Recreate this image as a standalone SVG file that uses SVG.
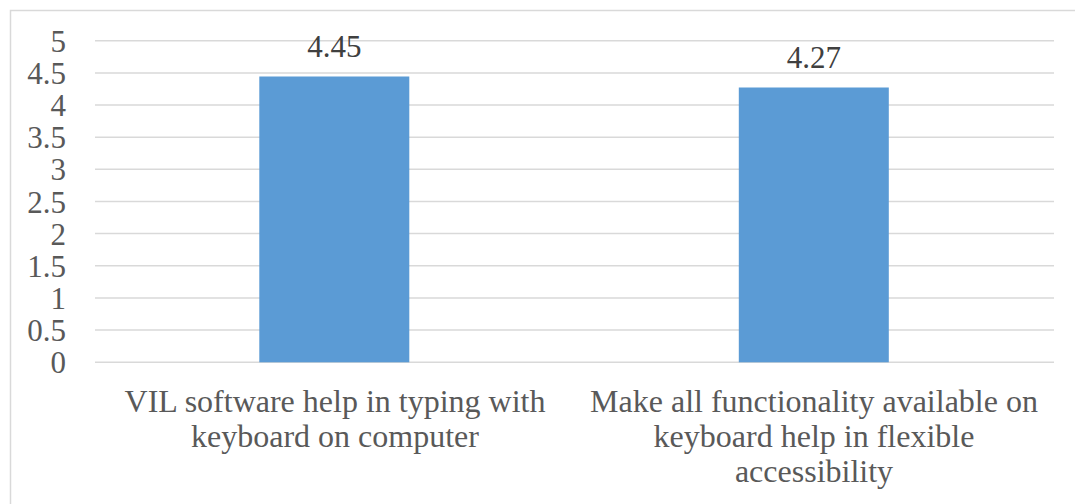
<svg xmlns="http://www.w3.org/2000/svg" width="1075" height="504" viewBox="0 0 1075 504">
<style>
.grid{stroke:#D9D9D9;stroke-width:1.5;fill:none}
.border{stroke:#D9D9D9;stroke-width:1.5;fill:none}
.bar{fill:#5B9BD5}
</style>
<rect width="1075" height="504" fill="#FFFFFF"/>
<path class="border" d="M10.5 504 V10.5 H1075"/>
<g id="gridlines">
<line class="grid" x1="95" y1="40.7" x2="1054" y2="40.7"/>
<line class="grid" x1="95" y1="72.9" x2="1054" y2="72.9"/>
<line class="grid" x1="95" y1="105" x2="1054" y2="105"/>
<line class="grid" x1="95" y1="137.2" x2="1054" y2="137.2"/>
<line class="grid" x1="95" y1="169.3" x2="1054" y2="169.3"/>
<line class="grid" x1="95" y1="201.5" x2="1054" y2="201.5"/>
<line class="grid" x1="95" y1="233.6" x2="1054" y2="233.6"/>
<line class="grid" x1="95" y1="265.8" x2="1054" y2="265.8"/>
<line class="grid" x1="95" y1="297.9" x2="1054" y2="297.9"/>
<line class="grid" x1="95" y1="330.1" x2="1054" y2="330.1"/>
<line class="grid" x1="95" y1="362.3" x2="1054" y2="362.3"/>
</g>
<g id="y-axis">
<text x="66" y="51.7" font-family="Liberation Serif" font-size="31" fill="#595959" text-anchor="end">5</text>
<text x="66" y="83.9" font-family="Liberation Serif" font-size="31" fill="#595959" text-anchor="end">4.5</text>
<text x="66" y="116" font-family="Liberation Serif" font-size="31" fill="#595959" text-anchor="end">4</text>
<text x="66" y="148.2" font-family="Liberation Serif" font-size="31" fill="#595959" text-anchor="end">3.5</text>
<text x="66" y="180.3" font-family="Liberation Serif" font-size="31" fill="#595959" text-anchor="end">3</text>
<text x="66" y="212.5" font-family="Liberation Serif" font-size="31" fill="#595959" text-anchor="end">2.5</text>
<text x="66" y="244.6" font-family="Liberation Serif" font-size="31" fill="#595959" text-anchor="end">2</text>
<text x="66" y="276.8" font-family="Liberation Serif" font-size="31" fill="#595959" text-anchor="end">1.5</text>
<text x="66" y="308.9" font-family="Liberation Serif" font-size="31" fill="#595959" text-anchor="end">1</text>
<text x="66" y="341.1" font-family="Liberation Serif" font-size="31" fill="#595959" text-anchor="end">0.5</text>
<text x="66" y="373.3" font-family="Liberation Serif" font-size="31" fill="#595959" text-anchor="end">0</text>
</g>
<g id="bar1">
<rect class="bar" x="259.3" y="76.5" width="150" height="285.8"/>
<text x="334.3" y="57.3" font-family="Liberation Serif" font-size="31" fill="#404040" text-anchor="middle">4.45</text>
<text x="335" y="411.7" font-family="Liberation Serif" font-size="32" fill="#595959" text-anchor="middle">VIL software help in typing with</text>
<text x="335" y="446.7" font-family="Liberation Serif" font-size="32" fill="#595959" text-anchor="middle">keyboard on computer</text>
</g>
<g id="bar2">
<rect class="bar" x="738.8" y="87.5" width="150" height="274.8"/>
<text x="813.8" y="68.3" font-family="Liberation Serif" font-size="31" fill="#404040" text-anchor="middle">4.27</text>
<text x="814" y="411.7" font-family="Liberation Serif" font-size="32" fill="#595959" text-anchor="middle">Make all functionality available on</text>
<text x="814" y="446.7" font-family="Liberation Serif" font-size="32" fill="#595959" text-anchor="middle">keyboard help in flexible</text>
<text x="814" y="481.7" font-family="Liberation Serif" font-size="32" fill="#595959" text-anchor="middle">accessibility</text>
</g>
</svg>
